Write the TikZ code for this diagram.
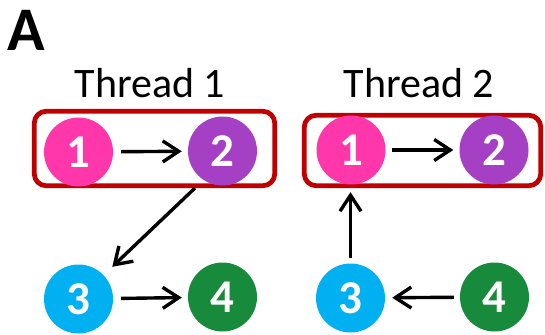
\documentclass[tikz,border=0pt]{standalone}
\usepackage{fontspec}
\setmainfont{Carlito}
\usetikzlibrary{arrows.meta}
\definecolor{cpink}{HTML}{FF37AA}
\definecolor{cpurple}{HTML}{A540C5}
\definecolor{ccyan}{HTML}{00B0F0}
\definecolor{cgreen}{HTML}{178A3C}
\definecolor{cred}{HTML}{C00000}
\begin{document}
\begin{tikzpicture}[x=1pt,y=-1pt,
  ball/.style={circle,minimum size=69pt,inner sep=0pt,text=white,font=\fontsize{47}{47}\selectfont\bfseries},
  grp/.style={draw=cred,line width=4.8pt,rounded corners=12pt,inner sep=0pt},
  arr/.style={line width=3.4pt,-{Straight Barb[length=16pt,width=21pt]}},
  ttl/.style={font=\fontsize{42}{42}\selectfont,anchor=base},
]
\useasboundingbox (0,0) rectangle (545,334);
\node[anchor=base west,font=\fontsize{62}{62}\selectfont\bfseries,inner sep=0pt] (lblA) at (7,51) {A};
\node[ttl] (t1) at (150,98) {Thread 1};
\node[ttl] (t2) at (419,97) {Thread 2};
% groups
\node[grp,minimum width=240.5pt,minimum height=74.5pt] (b1) at (154.5,148.5) {};
\node[grp,minimum width=236.5pt,minimum height=70.5pt] (b2) at (422.5,150.5) {};
% thread 1
\node[ball,fill=cpink] (a1) at (78.5,152) {1};
\node[ball,fill=cpurple] (a2) at (222.5,151) {2};
\node[ball,fill=ccyan] (a3) at (78.5,299) {3};
\node[ball,fill=cgreen] (a4) at (222.5,297) {4};
% thread 2
\node[ball,fill=cpink] (c1) at (351,150) {1};
\node[ball,fill=cpurple] (c2) at (494,150) {2};
\node[ball,fill=ccyan] (c3) at (350.5,298) {3};
\node[ball,fill=cgreen] (c4) at (494.5,297) {4};
% connectors
\coordinate (d1) at (195,188);
\draw[arr,shorten <=8pt,shorten >=6pt] (a1) -- (a2);
\draw[arr,shorten <=8pt,shorten >=6pt] (a3) -- (a4);
\draw[arr,shorten >=12pt] (d1) -- (a3);
\draw[arr,shorten <=6pt,shorten >=6pt] (c1) -- (c2);
\draw[arr,shorten <=6pt,shorten >=7pt] (c4) -- (c3);
\draw[arr,shorten <=5pt,shorten >=4pt] (c3) -- (c3 |- b2.south);
\end{tikzpicture}
\end{document}
